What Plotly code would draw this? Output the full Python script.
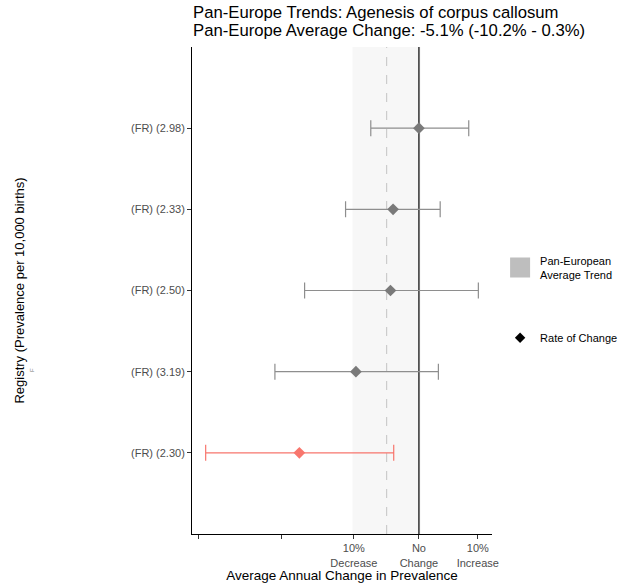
import math
import plotly.graph_objects as go

# ---- data ----
registries = ["(FR) (2.98)", "(FR) (2.33)", "(FR) (2.50)", "(FR) (3.19)", "(FR) (2.30)"]
change_pct = [0.0, -4.1, -4.5, -9.7, -17.6]
lower_pct = [-7.5, -11.2, -16.9, -20.8, -29.2]
upper_pct = [8.4, 3.5, 10.1, 3.2, -4.0]
significant = [False, False, False, False, True]

pan_avg_pct = -5.1
pan_lo_pct = -10.2
pan_hi_pct = 0.3

tick_vals_pct = [-30, -20, -10, 0, 10]
tick_text = ["", "", "10%<br>Decrease", "No<br>Change", "10%<br>Increase"]

title1 = "Pan-Europe Trends: Agenesis of corpus callosum"
title2 = "Pan-Europe Average Change: -5.1% (-10.2% - 0.3%)"

FONT = "Liberation Sans, Arial, sans-serif"
GREY = "#7A7A7A"
BAR_GREY = "#8E8E8E"
RED = "#F8766D"


def ratio(p):
    return 1 + p / 100.0


fig = go.Figure()

for i, reg in enumerate(registries):
    mcol = RED if significant[i] else GREY
    ecol = RED if significant[i] else BAR_GREY
    r = ratio(change_pct[i])
    fig.add_trace(go.Scatter(
        x=[r], y=[reg], mode="markers",
        marker=dict(symbol="diamond", size=9, color=mcol),
        error_x=dict(type="data", symmetric=False,
                     array=[ratio(upper_pct[i]) - r],
                     arrayminus=[r - ratio(lower_pct[i])],
                     color=ecol, thickness=1.2, width=8),
        showlegend=False, hoverinfo="x+y",
    ))

# legend entries
fig.add_trace(go.Scatter(
    x=[None], y=[None], mode="markers", name="Pan-European<br>Average Trend",
    legendgroup="a",
    marker=dict(symbol="square", size=16, color="#BEBEBE",
                line=dict(color="#BEBEBE", width=4)),
))
fig.add_trace(go.Scatter(
    x=[None], y=[None], mode="markers", name="Rate of Change",
    legendgroup="b",
    marker=dict(symbol="diamond", size=8, color="black"),
))

# pan-europe band, average line and no-change line
fig.add_shape(type="rect", xref="x", yref="paper",
              x0=ratio(pan_lo_pct), x1=ratio(pan_hi_pct), y0=0, y1=1,
              fillcolor="#F7F7F7", line=dict(width=0), layer="below")
fig.add_shape(type="line", xref="x", yref="paper",
              x0=ratio(pan_avg_pct), x1=ratio(pan_avg_pct), y0=0, y1=1,
              line=dict(color="#CCCCCC", width=1.2, dash="dash"), layer="below")
fig.add_shape(type="line", xref="x", yref="paper",
              x0=1, x1=1, y0=0, y1=1,
              line=dict(color="black", width=1.2), layer="below")

fig.update_xaxes(
    type="log",
    range=[math.log10(0.6925), math.log10(1.1256)],
    tickvals=[ratio(v) for v in tick_vals_pct], ticktext=tick_text,
    ticks="outside", ticklen=4, tickcolor="#333333",
    showline=True, linecolor="black", linewidth=1,
    showgrid=False, zeroline=False,
    tickfont=dict(family=FONT, size=11, color="#4D4D4D"),
    title=dict(text="Average Annual Change in Prevalence", standoff=0,
               font=dict(family=FONT, size=13.5, color="black")),
)
fig.update_yaxes(
    type="category",
    categoryorder="array", categoryarray=registries[::-1],
    range=[-1, 5],
    ticks="outside", ticklen=4, tickcolor="#333333",
    showline=True, linecolor="black", linewidth=1,
    showgrid=False, zeroline=False,
    tickfont=dict(family=FONT, size=11, color="#4D4D4D"),
    title=dict(text="Registry (Prevalence per 10,000 births)", standoff=103,
               font=dict(family=FONT, size=13, color="black")),
)

PH = 587 - 47 - 53
fig.add_annotation(text=title1, xref="paper", yref="paper", x=0, y=1 + 34 / PH,
                   xanchor="left", yanchor="middle", showarrow=False, xshift=-1,
                   font=dict(family=FONT, size=16.7, color="black"))
fig.add_annotation(text=title2, xref="paper", yref="paper", x=0, y=1 + 16 / PH,
                   xanchor="left", yanchor="middle", showarrow=False, xshift=-1,
                   font=dict(family=FONT, size=16.7, color="black"))
fig.add_annotation(text="F", xref="paper", yref="paper", x=(28 - 192) / 298,
                   y=1 - (374 - 47) / PH, textangle=-90, showarrow=False,
                   font=dict(family=FONT, size=6, color="#777777"))

fig.update_layout(
    width=618, height=587,
    margin=dict(l=192, r=126, t=47, b=53, autoexpand=False),
    paper_bgcolor="white", plot_bgcolor="white",
    font=dict(family=FONT),
    legend=dict(x=1.027, xanchor="left", y=0.59, yanchor="top",
                tracegroupgap=45, font=dict(family=FONT, size=11, color="black"),
                bgcolor="rgba(0,0,0,0)", itemsizing="trace"),
)

fig.write_html("out.html")
